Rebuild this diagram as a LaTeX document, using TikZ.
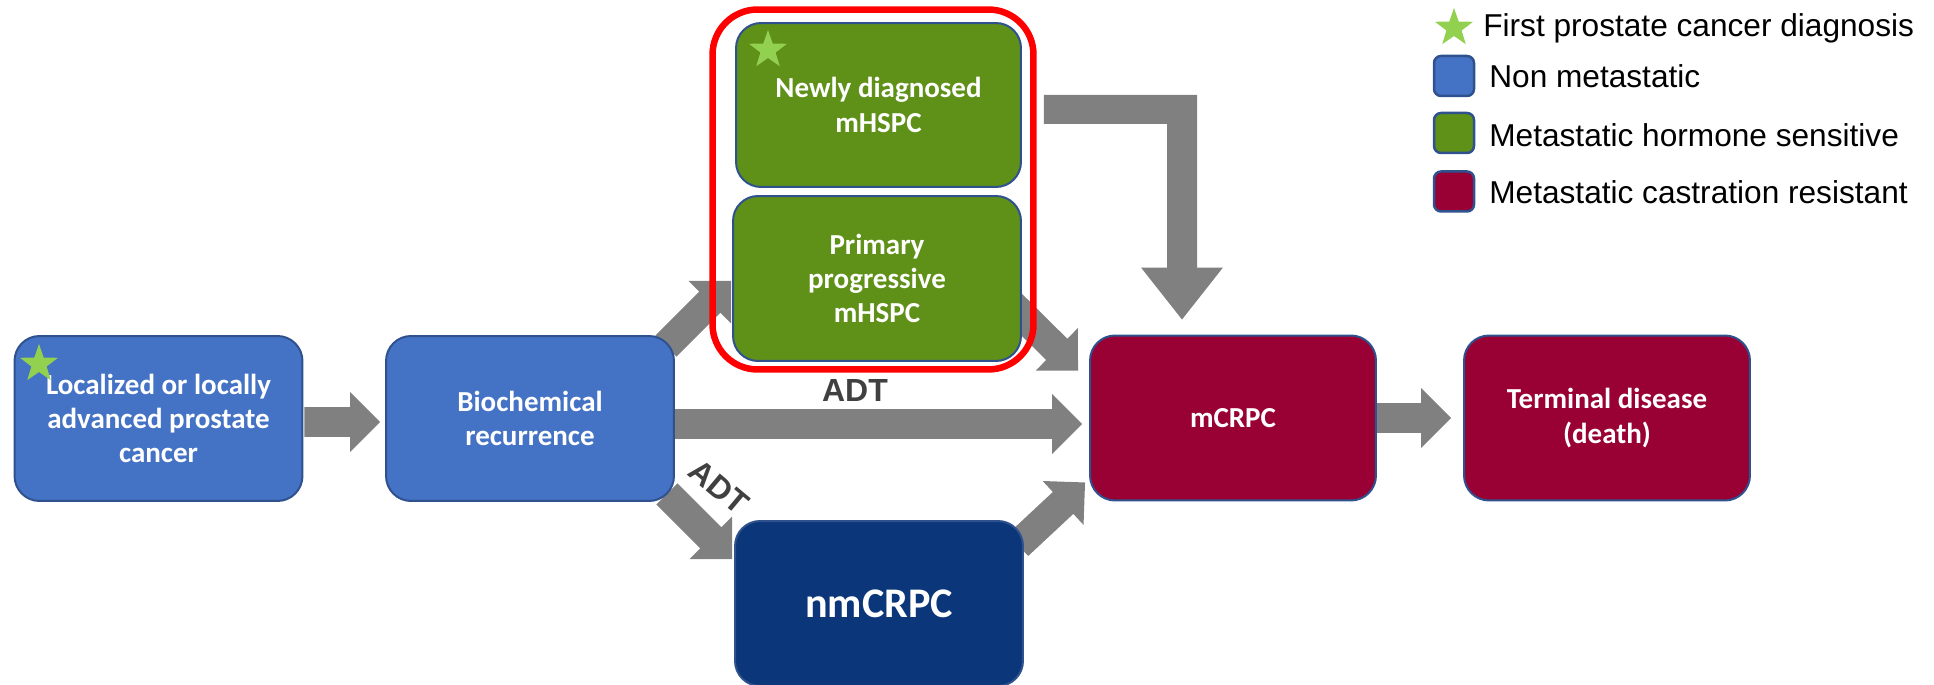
\documentclass[tikz,border=0pt]{standalone}
\usepackage{fontspec}
\usetikzlibrary{calc,shapes.geometric}
\newfontfamily\carlito{Carlito}
\newfontfamily\libsans{Liberation Sans}
\definecolor{nmblue}{HTML}{4472C4}
\definecolor{boxedge}{HTML}{2F528F}
\definecolor{mgreen}{HTML}{5F9118}
\definecolor{mred}{HTML}{990033}
\definecolor{nmcblue}{HTML}{0B3679}
\definecolor{agray}{HTML}{808080}
\definecolor{sgreen}{HTML}{92D050}
\definecolor{adtgray}{HTML}{404040}
\pgfdeclarelayer{bg}
\pgfsetlayers{bg,main}
\tikzset{
  stage/.style={draw=boxedge, line width=0.04cm, rounded corners=0.5cm,
    minimum width=5.76cm, minimum height=3.3cm, inner sep=0pt, outer sep=0pt,
    align=center, text=white, font=\carlito\bfseries\fontsize{16.5}{19.5}\selectfont},
  firststar/.style={star, star points=5, star point ratio=2.5, fill=sgreen,
    draw=none, minimum size=0.8cm, inner sep=0pt},
  legbox/.style={draw=boxedge, line width=0.05cm, rounded corners=0.14cm,
    minimum size=0.8cm, inner sep=0pt},
  legtext/.style={anchor=base west, inner sep=0pt, text=black,
    font=\libsans\fontsize{18}{21}\selectfont},
  adt/.style={inner sep=0pt, text=adtgray, font=\libsans\bfseries\fontsize{18.2}{21}\selectfont},
  grpbox/.style={draw=red, line width=0.13cm, rounded corners=0.9cm,
    minimum width=6.42cm, minimum height=7.2cm, inner sep=0pt}
}
\newcommand{\blockarrow}[2]{%
  \coordinate (hb) at ($(#2)!0.6cm!(#1)$);
  \fill[agray] ($(#1)!0.3cm!90:(#2)$) -- ($(hb)!0.3cm!90:(#2)$) -- ($(hb)!0.6cm!90:(#2)$)
    -- (#2) -- ($(hb)!0.6cm!-90:(#2)$) -- ($(hb)!0.3cm!-90:(#2)$) -- ($(#1)!0.3cm!-90:(#2)$) -- cycle;}
\begin{document}
\begin{tikzpicture}[x=0.02cm, y=-0.02cm]
\useasboundingbox (0,0) rectangle (1934,685);
% stages
\node[stage, fill=nmblue] (loc) at (158.5,418.5) {Localized or locally\\advanced prostate\\cancer};
\node[stage, fill=nmblue] (bio) at (530,418.5) {Biochemical\\recurrence};
\node[stage, fill=mgreen, minimum width=5.7cm, minimum height=3.28cm] (newly) at (878.5,105) {Newly diagnosed\\mHSPC};
\node[stage, fill=mgreen] (prim) at (877,278.5) {Primary\\progressive\\mHSPC};
\node[stage, fill=mred, minimum width=5.72cm] (mcrpc) at (1233,418) {mCRPC};
\node[stage, fill=mred, minimum width=5.72cm] (term) at (1607,418) {Terminal disease\\(death)};
\node[stage, fill=nmcblue, font=\carlito\bfseries\fontsize{24}{28}\selectfont] (nm) at (879,603.5) {nmCRPC};
% group frame
\node[grpbox] (grp) at (873,189.5) {};
% stars
\node[firststar] (st1) at (39,364) {};
\node[firststar] (st2) at (768,50) {};
% labels
\node[adt] (adt1) at (855,391) {ADT};
\node[adt, rotate=-40] (adt2) at (719,487) {ADT};
% legend
\node[firststar] (lst) at (1454,28) {};
\node[legtext] (l1) at (1483,37) {First prostate cancer diagnosis};
\node[legbox, fill=nmblue] (lb1) at (1454,76) {};
\node[legtext] (l2) at (1489,88) {Non metastatic};
\node[legbox, fill=mgreen] (lb2) at (1454,133) {};
\node[legtext] (l3) at (1489,147) {Metastatic hormone sensitive};
\node[legbox, fill=mred] (lb3) at (1454,191.5) {};
\node[legtext] (l4) at (1489,204) {Metastatic castration resistant};
% arrows
\begin{pgfonlayer}{bg}
\coordinate (a1s) at ($(loc.east)+(2,3.5)$);
\coordinate (a1t) at ($(bio.west)+(-6,3.5)$);
\coordinate (a2s) at ($(bio.east)+(1,5.5)$);
\coordinate (a2t) at ($(mcrpc.west)+(-8,6)$);
\coordinate (a3s) at ($(mcrpc.east)+(1,0)$);
\coordinate (a3t) at ($(term.west)+(-13,0)$);
\coordinate (a4s) at ($(bio.north east)+(-8,10)$);
\coordinate (a4t) at ($(prim.west)+(-2,2.5)$);
\coordinate (a5s) at ($(prim.east)+(-11,24.5)$);
\coordinate (a5t) at ($(mcrpc.north west)+(-12,35)$);
\coordinate (a6s) at ($(bio.south east)+(-7,-7)$);
\coordinate (a6t) at ($(nm.north west)+(-3,38)$);
\coordinate (a7s) at ($(nm.north east)+(-5,24)$);
\coordinate (a7t) at ($(mcrpc.south west)+(-5,-18)$);
\blockarrow{a1s}{a1t}
\blockarrow{a2s}{a2t}
\blockarrow{a3s}{a3t}
\blockarrow{a4s}{a4t}
\blockarrow{a5s}{a5t}
\blockarrow{a6s}{a6t}
\blockarrow{a7s}{a7t}
\coordinate (Ls) at ($(newly.east)+(23,4.5)$);
\coordinate (Lt) at ($(mcrpc.north)+(-51,-16)$);
\coordinate (Lc) at (Lt |- Ls);
\fill[agray] ($(Ls)+(0,-14.5)$) -- ($(Lc)+(15,-14.5)$) -- ($(Lt)+(15,-52)$) -- ($(Lt)+(41,-52)$)
  -- (Lt) -- ($(Lt)+(-41,-52)$) -- ($(Lt)+(-15,-52)$) -- ($(Lc)+(-15,14.5)$) -- ($(Ls)+(0,14.5)$) -- cycle;
\end{pgfonlayer}
\end{tikzpicture}
\end{document}
